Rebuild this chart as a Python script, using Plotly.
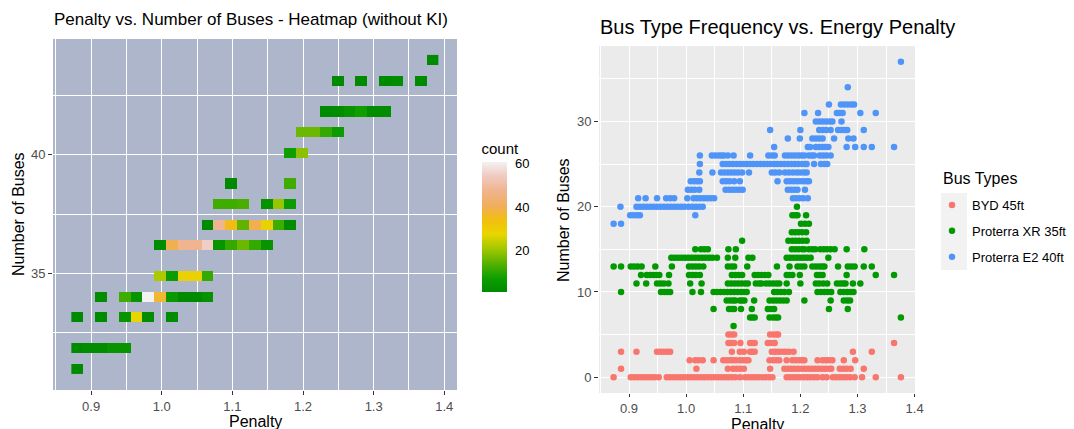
import numpy as np
import plotly.graph_objects as go

# ---------------- Left panel: 2D-binned heatmap tiles ----------------
heat_penalty = [1.383,
                1.249, 1.283, 1.316, 1.333, 1.367,
                1.233, 1.249, 1.266, 1.283, 1.300, 1.316,
                1.199, 1.216, 1.233, 1.249,
                1.182, 1.199,
                1.098, 1.182,
                1.082, 1.098, 1.115, 1.149, 1.165, 1.182,
                1.065, 1.082, 1.098, 1.115, 1.132, 1.149, 1.165, 1.182,
                0.998, 1.015, 1.031, 1.048, 1.065, 1.082, 1.098, 1.115, 1.132, 1.149,
                0.998, 1.015, 1.031, 1.048, 1.065,
                0.914, 0.948, 0.964, 0.981, 0.998, 1.015, 1.031, 1.048, 1.065,
                0.880, 0.914, 0.948, 0.964, 0.981, 1.015,
                0.880, 0.897, 0.914, 0.931, 0.948,
                0.880]
heat_buses = [44,
              43, 43, 43, 43, 43,
              42, 42, 42, 42, 42, 42,
              41, 41, 41, 41,
              40, 40,
              39, 39,
              38, 38, 38, 38, 38, 38,
              37, 37, 37, 37, 37, 37, 37, 37,
              36, 36, 36, 36, 36, 36, 36, 36, 36, 36,
              35, 35, 35, 35, 35,
              34, 34, 34, 34, 34, 34, 34, 34, 34,
              33, 33, 33, 33, 33, 33,
              32, 32, 32, 32, 32,
              31]
heat_count = [1,
              1, 1, 1, 2, 1,
              1, 2, 4, 7, 2, 2,
              16, 16, 11, 6,
              7, 19,
              1, 12,
              12, 12, 13, 3, 20, 6,
              1, 48, 35, 15, 40, 29, 12, 2,
              2, 40, 48, 48, 55, 4, 11, 16, 11, 4,
              22, 6, 29, 29, 11,
              2, 12, 4, 61, 37, 5, 1, 1, 3,
              1, 1, 4, 28, 2, 2,
              1, 2, 2, 4, 4,
              1]

# ---------------- Right panel: scatter, penalty values per number of buses ----------------
byd_points = {
    5: [1.074, 1.079, 1.084, 1.147, 1.153, 1.158, 1.161],
    4: [1.074, 1.079, 1.084, 1.095, 1.112, 1.116, 1.120, 1.143, 1.149, 1.155, 1.364],
    3: [0.886, 0.913, 0.949, 0.955, 0.961, 0.967, 0.972, 1.080, 1.094, 1.101, 1.112, 1.116,
        1.120, 1.150, 1.156, 1.162, 1.168, 1.174, 1.180, 1.188, 1.292, 1.325],
    2: [1.006, 1.016, 1.022, 1.029, 1.048, 1.065, 1.071, 1.077, 1.082, 1.087, 1.094, 1.100,
        1.105, 1.109, 1.146, 1.152, 1.158, 1.163, 1.176, 1.186, 1.192, 1.198, 1.203, 1.207,
        1.230, 1.239, 1.245, 1.250, 1.256, 1.276, 1.296],
    1: [0.886, 1.018, 1.073, 1.082, 1.088, 1.094, 1.101, 1.147, 1.172, 1.178, 1.184, 1.190,
        1.196, 1.202, 1.208, 1.214, 1.220, 1.226, 1.232, 1.238, 1.244, 1.250, 1.254, 1.269,
        1.275, 1.281, 1.288, 1.311],
    0: [0.873, 0.903, 0.909, 0.915, 0.921, 0.927, 0.933, 0.939, 0.945, 0.952,
        0.966, 0.972, 0.978, 0.984, 0.990, 0.996, 1.002, 1.008, 1.014, 1.020, 1.026, 1.032,
        1.038, 1.044, 1.050, 1.056, 1.062, 1.068, 1.074, 1.080, 1.086, 1.094,
        1.103, 1.109, 1.115, 1.121, 1.127, 1.133, 1.139, 1.145, 1.151,
        1.176, 1.182, 1.188, 1.194, 1.200, 1.206, 1.212, 1.218, 1.224, 1.230, 1.239, 1.246,
        1.257, 1.263, 1.269, 1.275, 1.281, 1.287, 1.295, 1.308, 1.332, 1.376],
}

xr_points = {
    20: [1.194],
    19: [1.186, 1.191, 1.195, 1.210],
    18: [1.201, 1.208, 1.215],
    17: [1.185, 1.191, 1.197, 1.203, 1.210],
    16: [1.098, 1.179, 1.186, 1.192, 1.198, 1.204, 1.211],
    15: [1.016, 1.026, 1.032, 1.038, 1.074, 1.087, 1.185, 1.191, 1.197, 1.203, 1.207, 1.215,
         1.221, 1.226, 1.235, 1.241, 1.247, 1.253, 1.260, 1.281, 1.312],
    14: [0.974, 0.980, 0.986, 0.992, 0.998, 1.004, 1.010, 1.016, 1.022, 1.028, 1.034, 1.040,
         1.046, 1.054, 1.073, 1.086, 1.109, 1.116, 1.176, 1.182, 1.188, 1.194, 1.200, 1.206,
         1.212, 1.218, 1.249],
    13: [0.873, 0.886, 0.903, 0.909, 0.915, 0.922, 0.946, 0.975, 1.005, 1.011, 1.017, 1.023,
         1.030, 1.073, 1.079, 1.084, 1.107, 1.159, 1.181, 1.195, 1.201, 1.207, 1.221, 1.227,
         1.233, 1.238, 1.242, 1.266, 1.283, 1.289, 1.295, 1.311, 1.325],
    12: [0.921, 0.931, 0.937, 0.943, 0.948, 0.953, 0.970, 1.005, 1.011, 1.017, 1.024, 1.080,
         1.086, 1.092, 1.098, 1.120, 1.126, 1.132, 1.138, 1.144, 1.176, 1.181, 1.186, 1.199,
         1.229, 1.234, 1.239, 1.281, 1.332, 1.364],
    11: [0.913, 0.930, 0.949, 0.955, 0.961, 0.969, 1.007, 1.027, 1.073, 1.079, 1.085, 1.091,
         1.097, 1.103, 1.108, 1.122, 1.128, 1.132, 1.140, 1.146, 1.152, 1.158, 1.163, 1.176,
         1.200, 1.227, 1.233, 1.240, 1.247, 1.264, 1.270, 1.275, 1.279, 1.292, 1.305],
    10: [0.886, 0.956, 0.962, 0.967, 0.972, 1.011, 1.026, 1.048, 1.054, 1.060, 1.066, 1.072,
         1.078, 1.084, 1.090, 1.096, 1.101, 1.106, 1.154, 1.160, 1.166, 1.172, 1.180, 1.230,
         1.236, 1.242, 1.248, 1.254, 1.270, 1.276, 1.282, 1.288, 1.293],
    9: [1.071, 1.077, 1.082, 1.086, 1.094, 1.098, 1.102, 1.119, 1.146, 1.152, 1.158, 1.164,
        1.170, 1.176, 1.207, 1.253, 1.276, 1.282, 1.287],
    8: [1.048, 1.075, 1.080, 1.084, 1.096, 1.115, 1.143, 1.149, 1.154, 1.250, 1.283],
    7: [1.112, 1.116, 1.120, 1.146, 1.152, 1.157, 1.161, 1.376],
    6: [1.083],
}

e2_points = {
    37: [1.376],
    34: [1.283],
    32: [1.250, 1.271, 1.277, 1.283, 1.289, 1.294],
    31: [1.207, 1.231, 1.264, 1.269, 1.274, 1.305, 1.332],
    30: [1.227, 1.233, 1.239, 1.245, 1.251, 1.256, 1.272],
    29: [1.147, 1.200, 1.233, 1.239, 1.245, 1.253, 1.266, 1.272, 1.277, 1.282, 1.311],
    28: [1.178, 1.199, 1.221, 1.227, 1.233, 1.239, 1.259, 1.284, 1.293],
    27: [1.154, 1.213, 1.217, 1.227, 1.233, 1.239, 1.244, 1.249, 1.281, 1.296, 1.311, 1.325, 1.364],
    26: [1.024, 1.045, 1.051, 1.057, 1.062, 1.066, 1.073, 1.083, 1.112, 1.144, 1.150, 1.155,
         1.173, 1.179, 1.185, 1.191, 1.197, 1.202, 1.207, 1.215, 1.220, 1.224, 1.234, 1.240,
         1.246, 1.253],
    25: [1.024, 1.064, 1.070, 1.076, 1.082, 1.088, 1.094, 1.100, 1.106, 1.112, 1.118, 1.124,
         1.130, 1.136, 1.142, 1.148, 1.154, 1.160, 1.166, 1.172, 1.178, 1.184, 1.190, 1.196,
         1.202, 1.208, 1.211, 1.224, 1.236, 1.242, 1.247],
    24: [1.023, 1.046, 1.061, 1.067, 1.073, 1.079, 1.085, 1.091, 1.098, 1.110, 1.150, 1.156,
         1.163, 1.173, 1.180, 1.187, 1.194, 1.200, 1.206, 1.211],
    23: [1.008, 1.014, 1.019, 1.024, 1.064, 1.070, 1.076, 1.084, 1.094, 1.160, 1.176, 1.182,
         1.188, 1.194, 1.200, 1.206, 1.211, 1.215],
    22: [1.003, 1.009, 1.015, 1.023, 1.069, 1.075, 1.081, 1.087, 1.093, 1.099, 1.178, 1.184,
         1.190, 1.195, 1.208],
    21: [0.916, 0.929, 0.949, 0.965, 0.972, 0.979, 1.002, 1.013, 1.019, 1.025, 1.031, 1.037,
         1.043, 1.049, 1.187, 1.193, 1.199, 1.205, 1.213],
    20: [0.885, 0.913, 0.919, 0.925, 0.931, 0.937, 0.943, 0.949, 0.955, 0.961, 0.967, 0.973,
         0.979, 0.985, 0.991, 0.997, 1.004, 1.011, 1.017, 1.023, 1.029],
    19: [0.902, 0.908, 0.914, 0.919, 1.016],
    18: [0.873, 0.886],
}

series_names = ["BYD 45ft", "Proterra XR 35ft", "Proterra E2 40ft"]
series_colors = ["#F8766D", "#009A00", "#4F94F8"]
series_data = [byd_points, xr_points, e2_points]

# ---------------- figure ----------------
W, H = 1074, 429


def px_x(p):
    return p / W


def px_y(p):
    return (H - p) / H


fig = go.Figure()

# ggplot-like bin2d grid
x_origin, x_width = 0.872, 0.01677
y_origin, y_width = 30.7667, 13 / 30
nbx, nby = 31, 31
x_edges = [x_origin + x_width * k for k in range(nbx + 1)]
y_edges = [y_origin + y_width * k for k in range(nby + 1)]
zgrid = [[None] * nbx for _ in range(nby)]
for p, b, c in zip(heat_penalty, heat_buses, heat_count):
    i = int(np.floor((p - x_origin) / x_width))
    j = int(np.floor((b - y_origin) / y_width))
    zgrid[j][i] = c

terrain = [[0.0, "#008A00"], [0.111, "#10A000"], [0.222, "#58B200"], [0.333, "#A2C800"],
           [0.444, "#E8D600"], [0.556, "#F2BE10"], [0.667, "#F0AE5E"], [0.778, "#F0B48E"],
           [0.889, "#F0C9C0"], [1.0, "#F2F2F2"]]

font_family = "Liberation Sans"

fig.add_trace(go.Heatmap(
    x=x_edges, y=y_edges, z=zgrid, xaxis="x", yaxis="y",
    colorscale=terrain, zmin=1, zmax=61, hoverongaps=False,
    colorbar=dict(
        title=dict(text="count", side="top", font=dict(size=15, color="#000000",
                                                       family=font_family)),
        x=px_x(481.5), xanchor="left", y=px_y(215.5), yanchor="middle",
        len=152, lenmode="pixels", thickness=25, thicknessmode="pixels",
        outlinewidth=0, tickvals=[20, 40, 60], ticks="outside", ticklen=6,
        tickcolor="rgba(0,0,0,0)", tickwidth=1,
        tickfont=dict(size=13, color="#000000", family=font_family),
        xpad=0, ypad=0,
    ),
))

for name, color, pts in zip(series_names, series_colors, series_data):
    xs, ys = [], []
    for buses, pens in pts.items():
        xs.extend(pens)
        ys.extend([buses] * len(pens))
    fig.add_trace(go.Scatter(
        x=xs, y=ys, mode="markers", name=name, xaxis="x2", yaxis="y2",
        marker=dict(size=6.5, color=color, line=dict(width=0)),
        legendgroup=name,
    ))

tick_font = dict(size=13, color="#4D4D4D", family=font_family)

common_axis = dict(
    showline=False, zeroline=False, ticks="outside", tickwidth=1,
    tickcolor="#333333", tickfont=tick_font, gridcolor="#FFFFFF",
)

fig.update_layout(
    width=W, height=H,
    margin=dict(l=0, r=0, t=0, b=0, autoexpand=False),
    paper_bgcolor="white",
    plot_bgcolor="rgba(0,0,0,0)",
    font=dict(family=font_family, color="#000000"),
    xaxis=dict(domain=[px_x(53), px_x(457)], range=[0.846, 1.418], anchor="y",
               tick0=0.9, dtick=0.1, tickformat=".1f", gridwidth=1.3, ticklen=4,
               minor=dict(dtick=0.05, tick0=0.9, showgrid=True, gridcolor="#FFFFFF",
                          gridwidth=0.6, ticks=""),
               **common_axis),
    yaxis=dict(domain=[px_y(390), px_y(39)], range=[30.1, 44.87], anchor="x",
               tick0=35, dtick=5, gridwidth=1.3, ticklen=4,
               minor=dict(dtick=2.5, tick0=35, showgrid=True, gridcolor="#FFFFFF",
                          gridwidth=0.6, ticks=""),
               **common_axis),
    xaxis2=dict(domain=[px_x(599), px_x(915)], range=[0.8474, 1.4007], anchor="y2",
                tick0=0.9, dtick=0.1, tickformat=".1f", gridwidth=1.2, ticklen=3,
                minor=dict(dtick=0.05, tick0=0.9, showgrid=True, gridcolor="#FFFFFF",
                           gridwidth=0.6, ticks=""),
                **common_axis),
    yaxis2=dict(domain=[px_y(393), px_y(46)], range=[-1.85, 38.85], anchor="x2",
                tick0=0, dtick=10, gridwidth=1.2, ticklen=4,
                minor=dict(dtick=5, tick0=0, showgrid=True, gridcolor="#FFFFFF",
                           gridwidth=0.6, ticks=""),
                **common_axis),
    legend=dict(
        x=px_x(932), y=px_y(190), xanchor="left", yanchor="top",
        font=dict(size=13, color="#000000", family=font_family),
        bgcolor="rgba(0,0,0,0)", tracegroupgap=6, itemsizing="trace",
    ),
    shapes=[
        dict(type="rect", xref="paper", yref="paper",
             x0=px_x(53), x1=px_x(457), y0=px_y(390), y1=px_y(39),
             fillcolor="#AEB6CB", line=dict(width=0), layer="below"),
        dict(type="rect", xref="paper", yref="paper",
             x0=px_x(599), x1=px_x(915), y0=px_y(393), y1=px_y(46),
             fillcolor="#EBEBEB", line=dict(width=0), layer="below"),
        dict(type="rect", xref="paper", yref="paper",
             x0=px_x(941), x1=px_x(967), y0=px_y(270), y1=px_y(193),
             fillcolor="#F2F2F2", line=dict(width=0), layer="below"),
    ],
    annotations=[
        dict(text="Penalty vs. Number of Buses - Heatmap (without KI)", xref="paper", yref="paper",
             x=px_x(52), y=px_y(20), xanchor="left", yanchor="middle", showarrow=False,
             font=dict(size=17, color="#000000", family=font_family)),
        dict(text="Bus Type Frequency vs. Energy Penalty", xref="paper", yref="paper",
             x=px_x(598), y=px_y(27), xanchor="left", yanchor="middle", showarrow=False,
             font=dict(size=20, color="#000000", family=font_family)),
        dict(text="Bus Types", xref="paper", yref="paper",
             x=px_x(941), y=px_y(178), xanchor="left", yanchor="middle", showarrow=False,
             font=dict(size=16, color="#000000", family=font_family)),
        dict(text="Penalty", xref="paper", yref="paper", x=px_x(255), y=px_y(421),
             xanchor="center", yanchor="middle", showarrow=False,
             font=dict(size=16, color="#000000", family=font_family)),
        dict(text="Penalty", xref="paper", yref="paper", x=px_x(757), y=px_y(424),
             xanchor="center", yanchor="middle", showarrow=False,
             font=dict(size=16, color="#000000", family=font_family)),
        dict(text="Number of Buses", xref="paper", yref="paper", x=px_x(18), y=px_y(214),
             xanchor="center", yanchor="middle", showarrow=False, textangle=-90,
             font=dict(size=16, color="#000000", family=font_family)),
        dict(text="Number of Buses", xref="paper", yref="paper", x=px_x(564), y=px_y(220),
             xanchor="center", yanchor="middle", showarrow=False, textangle=-90,
             font=dict(size=16, color="#000000", family=font_family)),
    ],
)

fig.write_html("out.html")
